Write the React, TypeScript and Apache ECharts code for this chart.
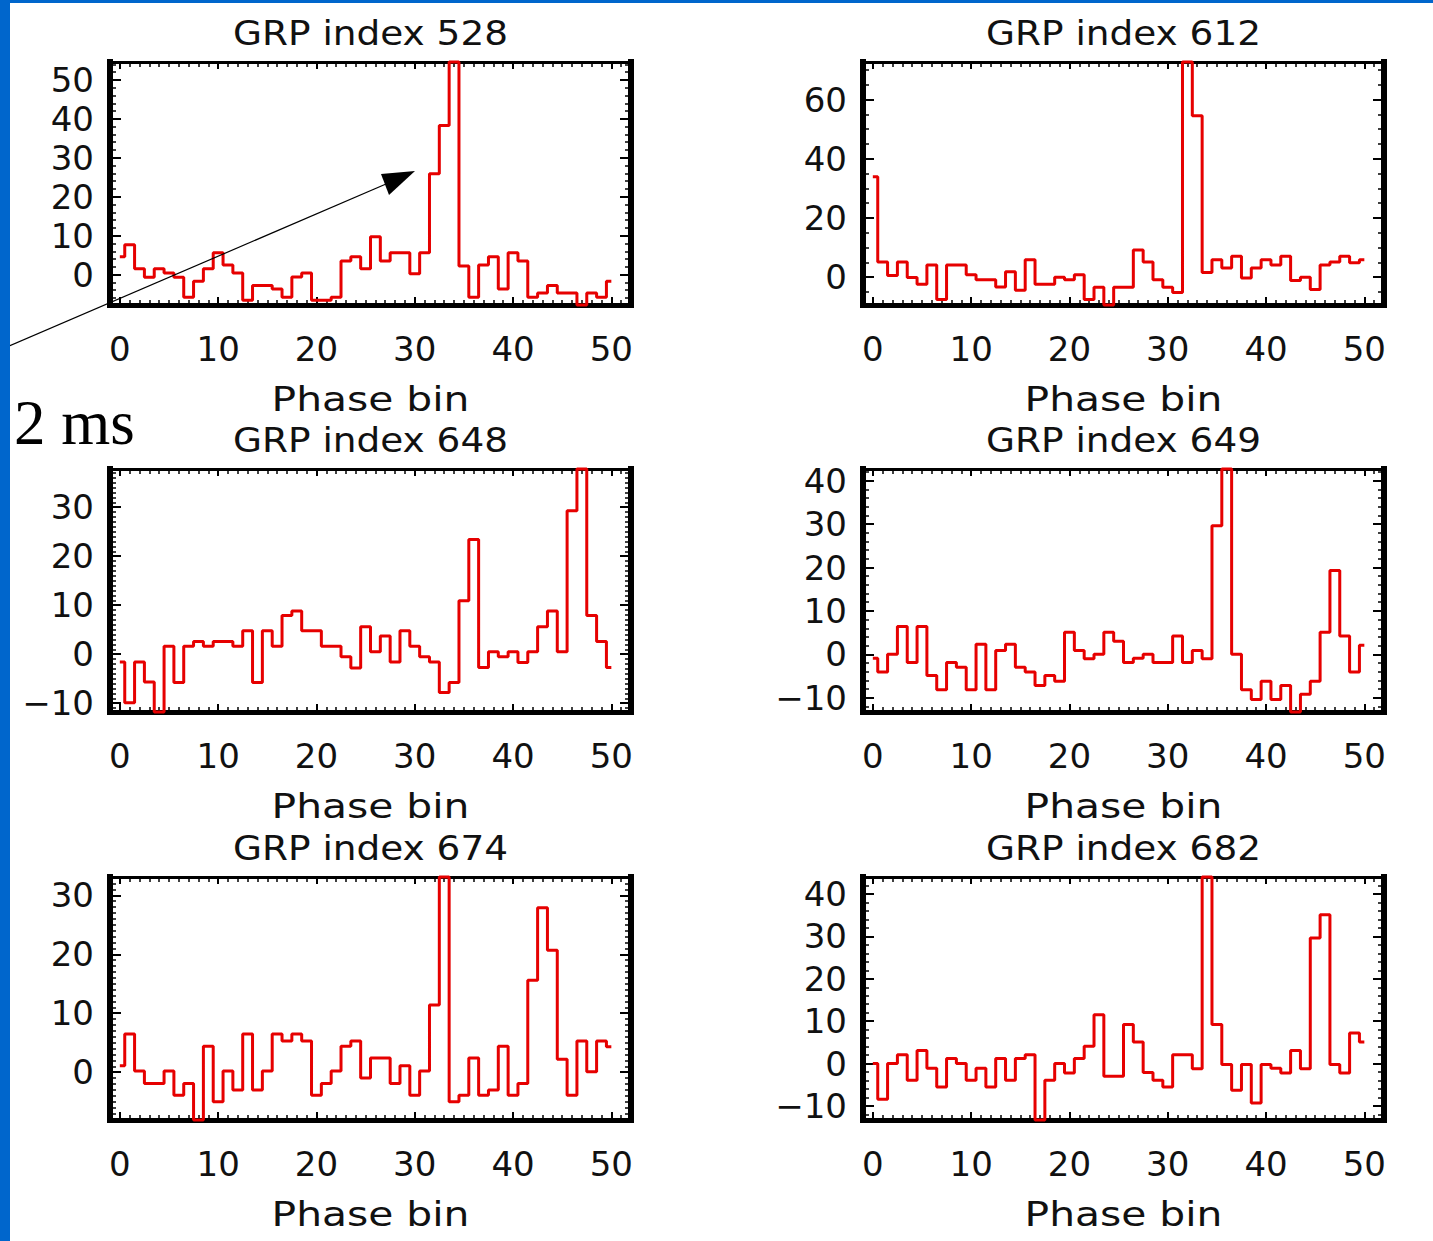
import React, { useEffect, useRef } from "react";
import * as echarts from "echarts";

// ---------- data ----------
const xTicks = [0, 10, 20, 30, 40, 50];
const xName = "Phase bin";

const titles = [
  "GRP index 528",
  "GRP index 612",
  "GRP index 648",
  "GRP index 649",
  "GRP index 674",
  "GRP index 682",
];

const grp528 = [
  4.6, 7.7, 1.5, -0.7, 1.5, 0.4, -0.7, -5.8, -1.7, 1.5,
  5.6, 2.5, 0.4, -6.6, -2.8, -2.8, -3.7, -5.8, -0.6, 0.4,
  -6.6, -6.6, -5.8, 3.5, 4.6, 1.5, 9.7, 3.5, 5.6, 5.6,
  0.2, 5.6, 25.9, 38.3, 54.6, 2.2, -5.8, 2.5, 4.6, -3.7,
  5.6, 3.5, -5.8, -4.7, -2.8, -4.7, -4.7, -7.8, -4.7, -5.8,
  -1.7,
];

const grp612 = [
  33.9, 5.1, 0.6, 5.1, -0.1, -2.4, 4.1, -7.5, 4.1, 4.1,
  0.8, -0.9, -0.9, -3.3, 1.8, -4.4, 5.9, -2.4, -2.4, 0,
  -0.9, 0.8, -7.5, -3.4, -9.4, -3.4, -3.4, 9.2, 5.1, -0.9,
  -3.4, -5.2, 72.7, 54.5, 1.6, 5.9, 3.1, 7.1, -0.3, 3.1,
  5.9, 4.1, 7.1, -1.1, 0, -4.2, 4.1, 5.1, 7.1, 4.9,
  5.9,
];

const grp648 = [
  -1.6, -9.9, -1.6, -5.7, -11.8, 1.6, -5.8, 1.6, 2.6, 1.6,
  2.6, 2.6, 1.6, 4.8, -5.8, 4.8, 1.6, 7.9, 8.8, 4.8,
  4.8, 1.6, 1.6, -0.5, -2.8, 5.6, 0.5, 3.7, -1.6, 4.8,
  1.6, -0.5, -1.6, -7.8, -5.8, 10.9, 23.4, -2.7, 0.5, -0.5,
  0.5, -1.7, 0.5, 5.6, 8.8, 0.5, 29.3, 37.8, 7.9, 2.6,
  -2.7,
];

const grp649 = [
  -0.9, -4.1, 0, 6.4, -1.9, 6.4, -4.9, -8.2, -1.9, -3.0,
  -8.2, 2.3, -8.2, 0.9, 2.3, -3.0, -4.1, -7.2, -4.9, -6.2,
  5.1, 0.9, -1.0, 0, 5.1, 3.0, -1.9, -0.9, 0, -1.9,
  -1.9, 4.2, -1.9, 0.9, -1.0, 29.6, 42.7, 0, -8.2, -10.4,
  -6.2, -10.4, -7.2, -13.3, -9.2, -6.2, 5.1, 19.3, 4.2, -4.1,
  2.1,
];

const grp674 = [
  1.1, 6.5, 0.2, -1.9, -1.9, 0.2, -3.9, -1.9, -8.1, 4.4,
  -5.0, 0.2, -3.0, 6.5, -3.0, 0.2, 6.5, 5.3, 6.5, 5.3,
  -3.9, -1.9, 0.2, 4.4, 5.3, -1.0, 2.4, 2.4, -1.9, 1.1,
  -3.9, 0.2, 11.4, 33.1, -5.0, -3.9, 2.4, -3.9, -3.0, 4.4,
  -3.9, -1.9, 15.6, 27.9, 20.7, 2.2, -3.9, 5.3, 0.1, 5.3,
  4.3,
];

const grp682 = [
  0, -8.4, 0, 2.1, -3.9, 3.1, -1.1, -5.5, 1.2, 0,
  -3.9, -1.1, -5.5, 1.2, -3.9, 1.2, 2.1, -13.3, -3.9, 0,
  -2.2, 1.2, 4.1, 11.5, -3.0, -3.0, 9.2, 5.1, -2.1, -3.9,
  -5.5, 2.1, 2.1, -1.2, 44.0, 9.2, -0.2, -6.3, -0.2, -9.3,
  -0.2, -1.1, -2.2, 3.1, -1.2, 29.6, 35.1, -0.2, -2.2, 7.2,
  5.1,
];

const yTicks528 = [0, 10, 20, 30, 40, 50];
const yTicks612 = [0, 20, 40, 60];
const yTicks648 = [-10, 0, 10, 20, 30];
const yTicks649 = [-10, 0, 10, 20, 30, 40];
const yTicks674 = [0, 10, 20, 30];
const yTicks682 = [-10, 0, 10, 20, 30, 40];

const seriesValues = [grp528, grp612, grp648, grp649, grp674, grp682];
const seriesYTicks = [yTicks528, yTicks612, yTicks648, yTicks649, yTicks674, yTicks682];

// ---------- layout / style ----------
const W = 1433;
const H = 1241;
const COL_LEFT = [110, 863];
const ROW_TOP = [62, 469, 877];
const PLOT_W = 521;
const PLOT_H = 243;
const X_MIN = -1;
const X_MAX = 52;
const Y_MINOR_SPLIT = [5, 4, 10, 5, 10, 5];
const FONT = '"DejaVu Sans", Verdana, sans-serif';
const FS = 34;
const INK = "#111";
const RED = "#e60000";
const BLUE = "#0066cc";

const fmt = (v: number) => (v < 0 ? "\u2212" + Math.abs(v) : String(v));

function buildOption() {
  const grids: any[] = [];
  const xAxes: any[] = [];
  const yAxes: any[] = [];
  const series: any[] = [];
  const graphics: any[] = [];

  seriesValues.forEach((values, k) => {
    const col = k % 2;
    const row = Math.floor(k / 2);
    const left = COL_LEFT[col];
    const top = ROW_TOP[row];
    grids.push({ left, top, width: PLOT_W, height: PLOT_H, show: false, containLabel: false });

    const ymin = Math.min(...values);
    const ymax = Math.max(...values);
    const yTicks = seriesYTicks[k];

    const tickLine = { color: "#000", width: 2 };
    const minorLine = { color: "#000", width: 1.5 };

    // bottom x axis
    xAxes.push({
      type: "value",
      gridIndex: k,
      position: "bottom",
      min: X_MIN,
      max: X_MAX,
      axisLine: { show: true, onZero: false, lineStyle: { color: "#000", width: 5, cap: "square" } },
      axisTick: { show: true, inside: true, length: 8, customValues: xTicks, lineStyle: tickLine },
      minorTick: { show: true, splitNumber: 10, length: 5, lineStyle: minorLine },
      axisLabel: { show: true, customValues: xTicks, margin: 27, fontFamily: FONT, fontSize: FS, color: INK },
      splitLine: { show: false },
      minorSplitLine: { show: false },
    });
    // top x axis (mirror)
    xAxes.push({
      type: "value",
      gridIndex: k,
      position: "top",
      min: X_MIN,
      max: X_MAX,
      axisLine: { show: true, onZero: false, lineStyle: { color: "#000", width: 3, cap: "square" } },
      axisTick: { show: true, inside: true, length: 7, customValues: xTicks, lineStyle: tickLine },
      minorTick: { show: true, splitNumber: 10, length: 5, lineStyle: minorLine },
      axisLabel: { show: false },
      splitLine: { show: false },
    });
    // left y axis
    yAxes.push({
      type: "value",
      gridIndex: k,
      position: "left",
      min: ymin,
      max: ymax,
      axisLine: { show: true, onZero: false, lineStyle: { color: "#000", width: 6, cap: "square" } },
      axisTick: { show: true, inside: true, length: 11, customValues: yTicks, lineStyle: tickLine },
      minorTick: { show: true, splitNumber: Y_MINOR_SPLIT[k], length: 6, lineStyle: minorLine },
      axisLabel: {
        show: true,
        customValues: yTicks,
        margin: 16,
        fontFamily: FONT,
        fontSize: FS,
        color: INK,
        formatter: fmt,
      },
      splitLine: { show: false },
    });
    // right y axis (mirror)
    yAxes.push({
      type: "value",
      gridIndex: k,
      position: "right",
      min: ymin,
      max: ymax,
      axisLine: { show: true, onZero: false, lineStyle: { color: "#000", width: 6, cap: "square" } },
      axisTick: { show: true, inside: true, length: 11, customValues: yTicks, lineStyle: tickLine },
      minorTick: { show: true, splitNumber: Y_MINOR_SPLIT[k], length: 6, lineStyle: minorLine },
      axisLabel: { show: false },
      splitLine: { show: false },
    });

    series.push({
      type: "line",
      name: titles[k],
      xAxisIndex: 2 * k,
      yAxisIndex: 2 * k,
      data: values.map((v, i) => [i, v]),
      step: "middle",
      symbol: "none",
      showSymbol: false,
      clip: false,
      silent: true,
      z: 3,
      lineStyle: { color: RED, width: 3 },
    });

    // panel title
    graphics.push({
      type: "text",
      x: left + PLOT_W / 2,
      y: top - 29,
      scaleX: 1.1,
      z: 50,
      style: {
        text: titles[k],
        font: `${FS}px ${FONT}`,
        fill: INK,
        align: "center",
        verticalAlign: "middle",
      },
    });
    // x axis name
    graphics.push({
      type: "text",
      x: left + PLOT_W / 2,
      y: top + 337,
      scaleX: 1.2,
      z: 50,
      style: {
        text: xName,
        font: `${FS}px ${FONT}`,
        fill: INK,
        align: "center",
        verticalAlign: "middle",
      },
    });
  });

  // blue slide border
  graphics.push({ type: "rect", z: 60, shape: { x: 0, y: 0, width: 10, height: H }, style: { fill: BLUE } });
  graphics.push({ type: "rect", z: 60, shape: { x: 0, y: 0, width: W, height: 3 }, style: { fill: BLUE } });

  // annotation: "2 ms" with arrow
  graphics.push({
    type: "text",
    x: 14,
    y: 423,
    z: 55,
    style: {
      text: "2 ms",
      font: `63px "Liberation Serif", "Times New Roman", serif`,
      fill: "#000",
      align: "left",
      verticalAlign: "middle",
    },
  });
  graphics.push({
    type: "line",
    z: 55,
    shape: { x1: 0, y1: 350, x2: 386, y2: 184 },
    style: { stroke: "#000", lineWidth: 1.2 },
  });
  graphics.push({
    type: "polygon",
    z: 55,
    shape: { points: [[415, 171], [381, 174], [389, 195]] },
    style: { fill: "#000" },
  });

  return {
    animation: false,
    backgroundColor: "#ffffff",
    grid: grids,
    xAxis: xAxes,
    yAxis: yAxes,
    series,
    graphic: { elements: graphics },
  };
}

export default function App() {
  const ref = useRef<HTMLDivElement>(null);
  useEffect(() => {
    if (!ref.current) return;
    const chart = echarts.init(ref.current, undefined, { renderer: "svg", width: W, height: H });
    chart.setOption(buildOption() as any);
    return () => chart.dispose();
  }, []);
  return (
    <div
      ref={ref}
      style={{ position: "absolute", left: 0, top: 0, width: W, height: H, background: "#fff" }}
    />
  );
}
